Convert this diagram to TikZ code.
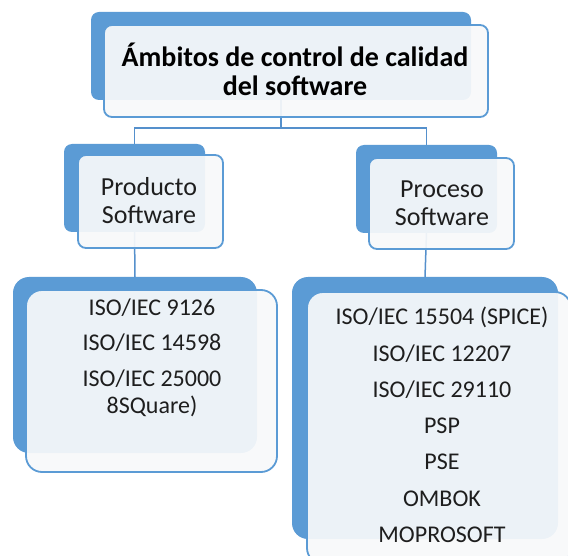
\documentclass[tikz,border=0pt]{standalone}
\usepackage{fontspec}
\setmainfont{Carlito}
\definecolor{accent}{HTML}{5B9BD5}
\definecolor{linkblue}{HTML}{5590CC}
\definecolor{panel}{HTML}{F8F9FA}
\definecolor{ink}{HTML}{1E1E1E}
\tikzset{
  backbox/.style={rectangle, fill=accent, draw=none, inner sep=0pt, outer sep=0pt},
  frontbox/.style={rectangle, fill=panel, fill opacity=0.93, draw=accent, line width=1.8pt, inner sep=0pt, outer sep=0pt},
  link/.style={draw=linkblue, line width=1.5pt},
  label/.style={text=ink, inner sep=0pt, align=center}
}
\begin{document}
\begin{tikzpicture}[x=1pt, y=-1pt]
  \fill[white] (0,0) rectangle (568,556);
  \useasboundingbox (0,0) rectangle (568,556);
  \begin{scope}
  \clip (0,0) rectangle (568,556);

  % back plates
  \node[backbox, rounded corners=8pt, minimum width=380pt, minimum height=88pt] (topB) at (281,56) {};
  \node[backbox, rounded corners=8pt, minimum width=141pt, minimum height=88pt] (prodB) at (134.5,188) {};
  \node[backbox, rounded corners=8pt, minimum width=141pt, minimum height=88pt] (procB) at (426.5,189) {};
  \node[backbox, rounded corners=16pt, minimum width=244pt, minimum height=176pt] (listL) at (135,365) {};
  \node[backbox, rounded corners=16pt, minimum width=266pt, minimum height=262pt] (listR) at (425,408) {};

  % connectors
  \draw[link] (topB.south) -- ++(0,28) coordinate (fork) -| (prodB.north);
  \draw[link] (fork) -| (procB.north);
  \draw[link] (prodB.south) -- (listL.north);
  \draw[link] (procB.south) -- (listR.north);

  % front panels
  \node[frontbox, rounded corners=8pt, minimum width=384pt, minimum height=92pt] (topF) at (296,71) {};
  \node[frontbox, rounded corners=8pt, minimum width=145pt, minimum height=93pt] (prodF) at (150.5,201.5) {};
  \node[frontbox, rounded corners=8pt, minimum width=145pt, minimum height=91pt] (procF) at (441.5,203.5) {};
  \node[frontbox, rounded corners=16pt, minimum width=251pt, minimum height=182pt] (listLF) at (151.5,381) {};
  \node[frontbox, rounded corners=16pt, minimum width=264pt, minimum height=272pt] (listRF) at (439,428) {};
  \end{scope}

  % texts
  \node[label, font=\bfseries\fontsize{28}{29}\selectfont, text=black] (topT) at (295,69)
    {Ámbitos de control de calidad\\del software};
  \node[label, font=\fontsize{26}{28}\selectfont] (prodT) at (149,201) {Producto\\Software};
  \node[label, font=\fontsize{26}{28}\selectfont] (procT) at (442,203) {Proceso\\Software};
  \node[label, anchor=north, font=\fontsize{24}{27}\selectfont] (listLT) at (152,299)
    {ISO/IEC 9126\\[8pt]ISO/IEC 14598\\[9pt]ISO/IEC 25000\\8SQuare)};
  \node[label, anchor=north, font=\fontsize{24}{27}\selectfont] (listRT) at (442,307)
    {ISO/IEC 15504 (SPICE)\\[9.3pt]ISO/IEC 12207\\[9.3pt]ISO/IEC 29110\\[9.3pt]PSP\\[9.3pt]PSE\\[9.3pt]OMBOK\\[9.3pt]MOPROSOFT};
\end{tikzpicture}
\end{document}
